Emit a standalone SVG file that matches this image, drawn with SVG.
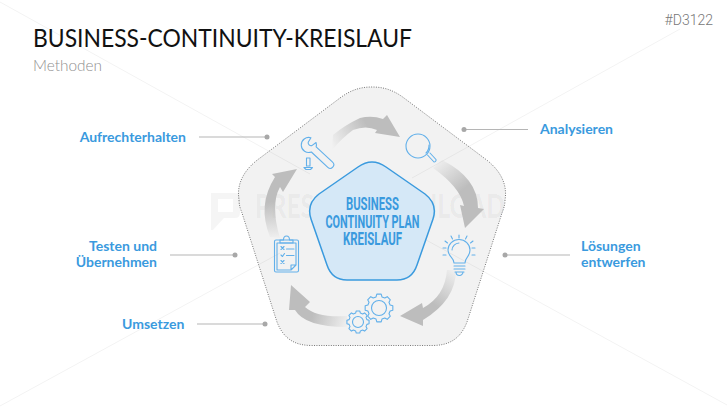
<svg xmlns="http://www.w3.org/2000/svg" width="727" height="409" viewBox="0 0 727 409">
<style>
.lbl{font-family:"Lato","Liberation Sans",sans-serif;font-weight:700;font-size:14px;fill:#3a9ade}
.ico{fill:none;stroke:#62b0ea;stroke-width:1.1;stroke-linecap:round;stroke-linejoin:round}
.lead{stroke:#b5b5b5;stroke-width:1.2;fill:none}
.dot{fill:#a8a8a8}
.wm{stroke:#000;stroke-opacity:.05;stroke-width:1;fill:none}
.core{font-family:"Roboto","Liberation Sans",sans-serif;font-weight:700;font-size:18px;fill:#3a9ade;text-anchor:middle}
</style>
<defs>
<linearGradient id="g1" gradientUnits="userSpaceOnUse" x1="332" y1="148" x2="385" y2="122"><stop offset="0" stop-color="#bdbdbd" stop-opacity="0"/><stop offset=".7" stop-color="#bdbdbd"/></linearGradient>
<linearGradient id="g2" gradientUnits="userSpaceOnUse" x1="435" y1="160" x2="472" y2="205"><stop offset="0" stop-color="#bdbdbd" stop-opacity="0"/><stop offset=".7" stop-color="#bdbdbd"/></linearGradient>
<linearGradient id="g3" gradientUnits="userSpaceOnUse" x1="455" y1="268" x2="420" y2="316"><stop offset="0" stop-color="#bdbdbd" stop-opacity="0"/><stop offset=".7" stop-color="#bdbdbd"/></linearGradient>
<linearGradient id="g4" gradientUnits="userSpaceOnUse" x1="350" y1="322" x2="298" y2="306"><stop offset="0" stop-color="#bdbdbd" stop-opacity="0"/><stop offset=".7" stop-color="#bdbdbd"/></linearGradient>
<linearGradient id="g5" gradientUnits="userSpaceOnUse" x1="276" y1="240" x2="273" y2="185"><stop offset="0" stop-color="#bdbdbd" stop-opacity="0"/><stop offset=".7" stop-color="#bdbdbd"/></linearGradient>
<path id="gear" d="M13.83 -2.19L13.83 2.19L11.11 2.98L9.96 5.75L11.33 8.23L8.23 11.33L5.75 9.96L2.98 11.11L2.19 13.83L-2.19 13.83L-2.98 11.11L-5.75 9.96L-8.23 11.33L-11.33 8.23L-9.96 5.75L-11.11 2.98L-13.83 2.19L-13.83 -2.19L-11.11 -2.98L-9.96 -5.75L-11.33 -8.23L-8.23 -11.33L-5.75 -9.96L-2.98 -11.11L-2.19 -13.83L2.19 -13.83L2.98 -11.11L5.75 -9.96L8.23 -11.33L11.33 -8.23L9.96 -5.75L11.11 -2.98Z" vector-effect="non-scaling-stroke"/>
</defs>

<g id="title">
<text x="33" y="47" font-family="Lato,'Liberation Sans',sans-serif" font-size="25" fill="#111" textLength="379" lengthAdjust="spacingAndGlyphs">BUSINESS-CONTINUITY-KREISLAUF</text>
<text x="33" y="71" font-family="Lato,'Liberation Sans',sans-serif" font-weight="300" font-size="15" fill="#8f8f8f" textLength="69" lengthAdjust="spacingAndGlyphs">Methoden</text>
<text x="713" y="25" text-anchor="end" font-family="Roboto,'Liberation Sans',sans-serif" font-weight="300" font-size="14" fill="#777">#D3122</text>
</g>

<path id="pentagon" d="M340 98C352 89 362 87 372 87C382 87 392 89 404 98L484 158C498 168 508 182 505 200C505 206 503 210 502 213L467 322C460 340 448 345.500 432 345.500L312 345.500C296 345.500 284 340 277 322L242 213C241 210 239 206 239 200C236 182 246 168 260 158Z" fill="#f2f2f2" stroke="#777" stroke-width="1" stroke-dasharray="1 1.4"/>

<g id="watermark">
<path class="wm" d="M0 2L310 174M680 29L412 178M417 235L727 405M0 406L280 253"/>
<path d="M211 193H235Q240 193 240 198V213Q240 218 235 218H224L213 230H211ZM218 199V212H233V199Z" fill="#000" fill-opacity=".04" fill-rule="evenodd"/>
<text x="255" y="218" font-family="Lato,'Liberation Sans',sans-serif" font-weight="900" font-size="32" fill="#000" fill-opacity=".045" textLength="250" lengthAdjust="spacingAndGlyphs">PRESENTATIONLOAD</text>
</g>

<g id="connectors">
<path fill="url(#g1)" d="M333 135Q345 125 360 118Q372 115 383 119L387 115L400 137L375 133L377 130Q366 125 353 130Q342 138 332 150Z"/>
<path fill="url(#g2)" d="M442 160Q478 178 478 208L484 209L465 228L460 205L464 206Q460 187 433 168Z"/>
<path fill="url(#g3)" d="M456 270Q456 300 423 320L423 326L400 316L422 303L423 308Q445 296 447 270Z"/>
<path fill="url(#g4)" d="M347 316Q317 318 305 307L310 302L291 285L289 310L295 310Q305 327 347 327Z"/>
<path fill="url(#g5)" d="M270 237Q257 205 275 177L272 174L297 169L283 192L280 187Q270 205 280 238Z"/>
<path class="lead" d="M199 137H267M170 255H235M197 324H265M464 129.500H528M505 255H570"/>
<circle class="dot" cx="267" cy="137" r="2.500"/>
<circle class="dot" cx="235" cy="255" r="2.500"/>
<circle class="dot" cx="265" cy="324" r="2.500"/>
<circle class="dot" cx="464" cy="129.500" r="2.500"/>
<circle class="dot" cx="505" cy="255" r="2.500"/>
</g>

<g id="node-center">
<path d="M358 167Q372 157 386 167L425 194Q438 204 433 219L417 265Q412 280 397 280L347 280Q332 280 327 265L311 219Q306 204 319 194Z" fill="#d5e8f7" stroke="#3a9ade" stroke-width="1.500"/>
<text class="core" x="372.500" y="210" textLength="53" lengthAdjust="spacingAndGlyphs">BUSINESS</text>
<text class="core" x="372.500" y="227.500" textLength="94" lengthAdjust="spacingAndGlyphs">CONTINUITY PLAN</text>
<text class="core" x="372.500" y="245" textLength="59" lengthAdjust="spacingAndGlyphs">KREISLAUF</text>
</g>

<g id="node-analysieren">
<text class="lbl" x="540" y="134">Analysieren</text>
<g class="ico">
<circle cx="418" cy="146" r="12"/>
<path d="M426 153A11 11 0 0 0 429 145M427.500 155L434 162A2 2 0 0 0 436 159.500L430 153"/>
</g>
</g>

<g id="node-loesungen">
<text class="lbl" x="581" y="251">Lösungen</text>
<text class="lbl" x="581" y="267">entwerfen</text>
<g class="ico">
<path d="M454 263C454 257 448 257 448 250A11 10.500 0 0 1 470 250C470 257 465 257 465 263Z"/>
<path d="M452 250A7.500 7.500 0 0 1 459 243M454 266H465M454 269H465M455 272H464M456 272A3.500 3.500 0 0 0 463 272"/>
<path d="M459 235V238M451 236L452.500 239M467 236L465.500 239M445 241L447.500 243M473 241L470.500 243M443 248H446M472 248H475M443 255H446M472 255H475"/>
</g>
</g>

<g id="node-umsetzen">
<text class="lbl" x="122" y="329">Umsetzen</text>
<g class="ico">
<use href="#gear" transform="translate(379 308)"/>
<circle cx="379" cy="308" r="7.500"/>
<use href="#gear" transform="translate(358 322) scale(.8)"/>
<circle cx="358" cy="322" r="5.500"/>
</g>
</g>

<g id="node-testen">
<text class="lbl" x="157" y="251" text-anchor="end">Testen und</text>
<text class="lbl" x="157" y="267" text-anchor="end">Übernehmen</text>
<g class="ico">
<rect x="274.500" y="240" width="24" height="32" rx="1.500"/>
<path d="M277 243H296V265L291 270H277ZM296 265H291V270"/>
<path d="M280 240V243H293V240H289.500A3 4 0 0 0 283.500 240Z"/>
<path d="M281 246.500L284 249.500M284 246.500L281 249.500M281 255L282.500 256.500L284.500 253.500M281 260.500L284 263.500M284 260.500L281 263.500M286.500 249H294M286.500 255.500H294"/>
</g>
</g>

<g id="node-aufrechterhalten">
<text class="lbl" x="186" y="142" text-anchor="end">Aufrechterhalten</text>
<g class="ico">
<path transform="translate(309 145) rotate(43)" d="M6.500 -3.500L29 -3.500A3.500 3.500 0 0 1 29 3.500L6.500 3.500A7.500 7.500 0 1 1 -3.500 -6.600L-2.500 -1.500A3 3 0 0 0 2.500 -1.500L3.500 -6.600A7.500 7.500 0 0 1 6.500 -3.500Z"/>
<path d="M306.500 158H310V166H306.500ZM304 167.500H312.500L310.500 169.500H306Z"/>
</g>
</g>
</svg>
